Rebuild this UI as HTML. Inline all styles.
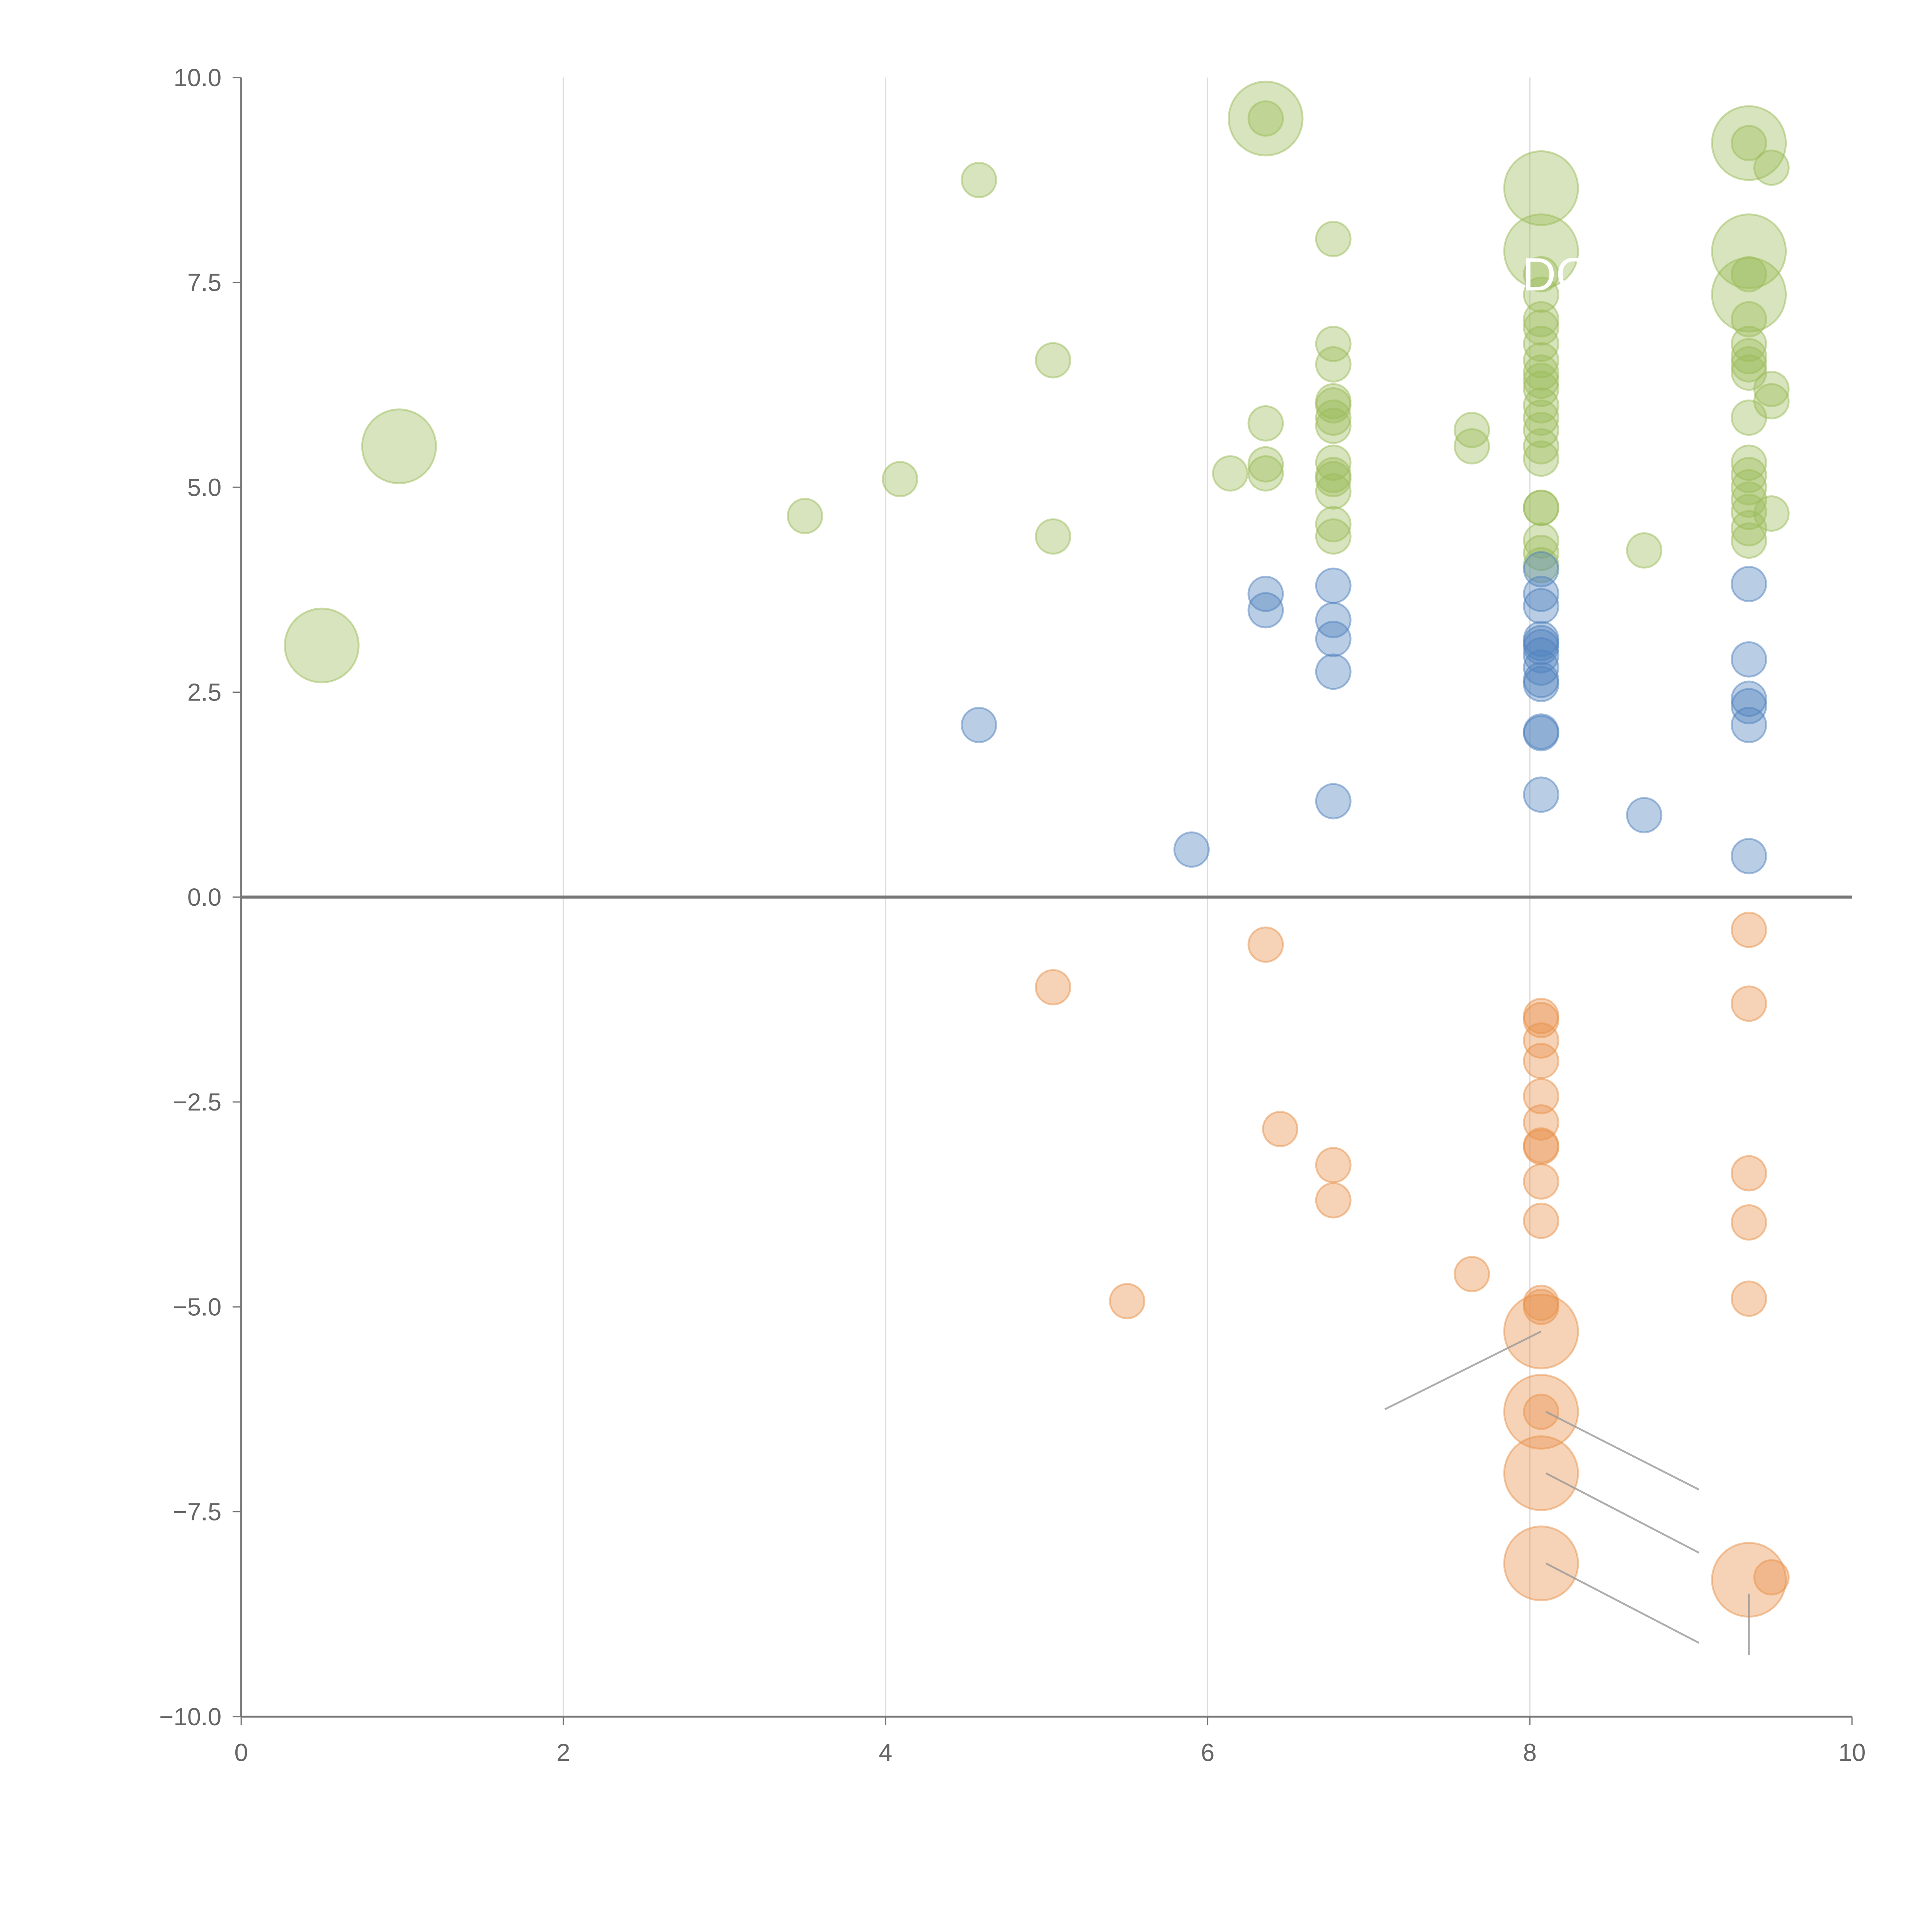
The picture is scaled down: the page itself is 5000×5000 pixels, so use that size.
<!DOCTYPE html>
<html><head><meta charset="utf-8"><style>
html,body{margin:0;padding:0;background:#fff;}
svg{display:block;}
text{font-family:"Liberation Sans",sans-serif;}
</style></head><body>
<svg id="chart" width="5000" height="5000" viewBox="0 0 1570 1570" xmlns="http://www.w3.org/2000/svg">
<g id="grid"></g>
<g id="axes"></g>
<g id="marks"></g>
<g id="ann"></g>
</svg>
<script>
const xTicks=[0,2,4,6,8,10];
const yTicks=[10,7.5,5,2.5,0,-2.5,-5,-7.5,-10];
const yTickLabels=["10.0","7.5","5.0","2.5","0.0","\u22122.5","\u22125.0","\u22127.5","\u221210.0"];
// [x, y, large(1)/small(0)]
const greenPts=[[0.5,3.07,1],[0.98,5.5,1],[3.5,4.65,0],[4.09,5.1,0],[4.58,8.75,0],[5.04,6.55,0],[5.04,4.4,0],[6.14,5.17,0],[6.36,5.78,0],[6.36,5.28,0],[6.36,5.17,0],[6.36,9.5,1],[6.36,9.5,0],[6.78,8.03,0],[6.78,6.75,0],[6.78,6.5,0],[6.78,6.05,0],[6.78,6.0,0],[6.78,5.85,0],[6.78,5.75,0],[6.78,5.3,0],[6.78,5.15,0],[6.78,5.1,0],[6.78,4.95,0],[6.78,4.55,0],[6.78,4.4,0],[7.64,5.7,0],[7.64,5.5,0],[8.71,4.23,0],[8.07,8.65,1],[8.07,7.88,1],[8.07,7.6,0],[8.07,7.35,0],[8.07,7.05,0],[8.07,6.95,0],[8.07,6.75,0],[8.07,6.55,0],[8.07,6.4,0],[8.07,6.3,0],[8.07,6.2,0],[8.07,6.0,0],[8.07,5.85,0],[8.07,5.7,0],[8.07,5.5,0],[8.07,5.35,0],[8.07,4.75,0],[8.07,4.75,0],[8.07,4.35,0],[8.07,4.2,0],[8.07,4.05,0],[9.36,9.2,1],[9.36,9.2,0],[9.5,8.9,0],[9.36,7.88,1],[9.36,7.35,1],[9.36,7.6,0],[9.36,7.05,0],[9.36,6.75,0],[9.36,6.6,0],[9.36,6.5,0],[9.36,6.4,0],[9.36,5.85,0],[9.36,5.3,0],[9.36,5.15,0],[9.36,5.0,0],[9.36,4.85,0],[9.36,4.7,0],[9.36,4.5,0],[9.36,4.35,0],[9.5,6.2,0],[9.5,6.05,0],[9.5,4.68,0]];
const bluePts=[[4.58,2.1,0],[5.9,0.58,0],[6.36,3.7,0],[6.36,3.5,0],[6.78,3.8,0],[6.78,3.38,0],[6.78,3.15,0],[6.78,2.75,0],[6.78,1.17,0],[8.07,4.0,0],[8.07,3.7,0],[8.07,3.55,0],[8.07,3.15,0],[8.07,3.1,0],[8.07,3.05,0],[8.07,2.95,0],[8.07,2.8,0],[8.07,2.65,0],[8.07,2.6,0],[8.07,2.02,0],[8.07,2.0,0],[8.07,1.25,0],[8.71,1.0,0],[9.36,3.82,0],[9.36,2.9,0],[9.36,2.42,0],[9.36,2.33,0],[9.36,2.1,0],[9.36,0.5,0]];
const orangePts=[[5.04,-1.1,0],[5.5,-4.93,0],[6.36,-0.58,0],[6.45,-2.83,0],[6.78,-3.27,0],[6.78,-3.7,0],[7.64,-4.6,0],[8.07,-1.45,0],[8.07,-1.5,0],[8.07,-1.75,0],[8.07,-2.0,0],[8.07,-2.43,0],[8.07,-2.75,0],[8.07,-3.03,0],[8.07,-3.05,0],[8.07,-3.47,0],[8.07,-3.95,0],[8.07,-4.95,0],[8.07,-5.0,0],[8.07,-5.3,1],[8.07,-6.28,1],[8.07,-6.28,0],[8.07,-7.03,1],[8.07,-8.13,1],[9.36,-0.4,0],[9.36,-1.3,0],[9.36,-3.37,0],[9.36,-3.97,0],[9.36,-4.9,0],[9.36,-8.33,1],[9.5,-8.3,0]];
// leader lines [x1,y1,x2,y2] in data units
const leaders=[[8.07,-5.3,7.1,-6.25],[8.1,-6.28,9.05,-7.23],[8.1,-7.03,9.05,-8.0],[8.1,-8.13,9.05,-9.1],[9.36,-8.5,9.36,-9.25]];
const NS="http://www.w3.org/2000/svg";
const X=v=>196+v*130.9, Y=v=>729-v*66.6;
function mk(t,a,p){const e=document.createElementNS(NS,t);for(const k in a)e.setAttribute(k,a[k]);p.appendChild(e);return e;}
const grid=document.getElementById('grid'),axes=document.getElementById('axes'),marks=document.getElementById('marks'),ann=document.getElementById('ann');
xTicks.forEach(t=>{if(t>0&&t<10){const l=mk('line',{x1:X(t),x2:X(t),y1:63,y2:1395,stroke:'#ddd','stroke-width':1},grid);

}});
let a=mk('line',{x1:196,x2:196,y1:63,y2:1395,stroke:'#777','stroke-width':1.5},axes);


a=mk('line',{x1:196,x2:1505,y1:1395,y2:1395,stroke:'#777','stroke-width':1.5},axes);


a=mk('line',{x1:196,x2:1505,y1:Y(0),y2:Y(0),stroke:'#777','stroke-width':2.5},axes);


xTicks.forEach(t=>{mk('line',{x1:X(t),x2:X(t),y1:1395,y2:1402,stroke:'#777'},axes);
const tx=mk('text',{x:X(t),y:1431,'text-anchor':'middle','font-size':20,fill:'#666'},axes);tx.textContent=t;

});
yTicks.forEach((t,i)=>{mk('line',{x1:189,x2:196,y1:Y(t),y2:Y(t),stroke:'#777'},axes);
const tx=mk('text',{x:180,y:Y(t)+7,'text-anchor':'end','font-size':20,fill:'#666'},axes);tx.textContent=yTickLabels[i];

});
function series(pts,fill,stroke,name){pts.forEach(p=>{const c=mk('circle',{cx:X(p[0]),cy:Y(p[1]),r:p[2]?30:14,fill:fill,'fill-opacity':0.4,stroke:stroke,'stroke-opacity':0.5,'stroke-width':1.5},marks);

});}
series(greenPts,'#9bbb59','#9bbb59','bubble-green');
series(bluePts,'#4f81bd','#4f81bd','bubble-blue');
series(orangePts,'#e8914a','#e8914a','bubble-orange');
leaders.forEach(l=>{const e=mk('line',{x1:X(l[0]),y1:Y(l[1]),x2:X(l[2]),y2:Y(l[3]),stroke:'#999','stroke-width':1.5,'stroke-opacity':0.8},ann);

});
const t1=mk('text',{x:1237,y:236,'font-size':38,fill:'#fff'},ann);t1.textContent='DO';


</script>
</body></html>
